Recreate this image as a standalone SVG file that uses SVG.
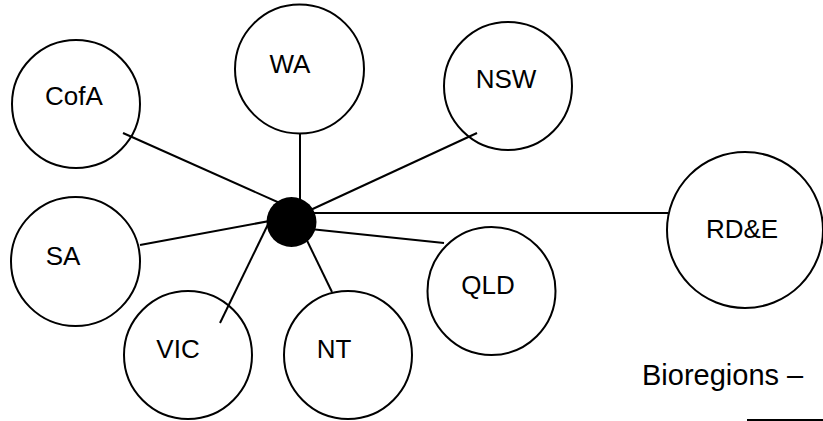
<svg xmlns="http://www.w3.org/2000/svg" width="823" height="421" viewBox="0 0 823 421">
<style>
.n{fill:#fff;stroke:#000;stroke-width:2}
.l{stroke:#000;stroke-width:2;fill:none}
text{font-family:"Liberation Sans",Arial,sans-serif;font-size:26px;fill:#000;text-anchor:middle}
</style>
<rect width="823" height="421" fill="#fff"/>
<g id="CofA"><circle class="n" cx="76" cy="104" r="64"/><text x="74" y="105">CofA</text></g>
<g id="WA"><circle class="n" cx="299.5" cy="69" r="64.5"/><text x="290" y="73">WA</text></g>
<g id="NSW"><circle class="n" cx="508" cy="86" r="64"/><text x="506" y="88">NSW</text></g>
<g id="SA"><circle class="n" cx="75.5" cy="261.5" r="64.5"/><text x="63" y="265">SA</text></g>
<g id="VIC"><circle class="n" cx="188" cy="355" r="64"/><text x="178" y="358">VIC</text></g>
<g id="NT"><circle class="n" cx="348" cy="355" r="64"/><text x="334" y="358">NT</text></g>
<g id="QLD"><circle class="n" cx="491.5" cy="291" r="64"/><text x="488" y="294">QLD</text></g>
<g id="RDE"><circle class="n" cx="745" cy="230" r="78"/><text x="742" y="238">RD&amp;E</text></g>
<g id="connectors">
<line class="l" x1="123" y1="133" x2="291" y2="208"/>
<line class="l" x1="300" y1="133" x2="300" y2="210"/>
<line class="l" x1="477" y1="133" x2="291" y2="219"/>
<line class="l" x1="300" y1="213" x2="668" y2="213"/>
<line class="l" x1="140" y1="245" x2="291" y2="217"/>
<line class="l" x1="444" y1="243" x2="291" y2="227"/>
<line class="l" x1="220" y1="323" x2="274" y2="212"/>
<line class="l" x1="332" y1="292" x2="298" y2="222"/>
</g>
<g id="hub"><circle cx="291.5" cy="222" r="25" fill="#000"/></g>
<g id="caption"><text x="642" y="385" style="text-anchor:start;font-size:29px">Bioregions –</text></g>
<g id="box"><rect class="l" x="748" y="420" width="120" height="60"/></g>
</svg>
